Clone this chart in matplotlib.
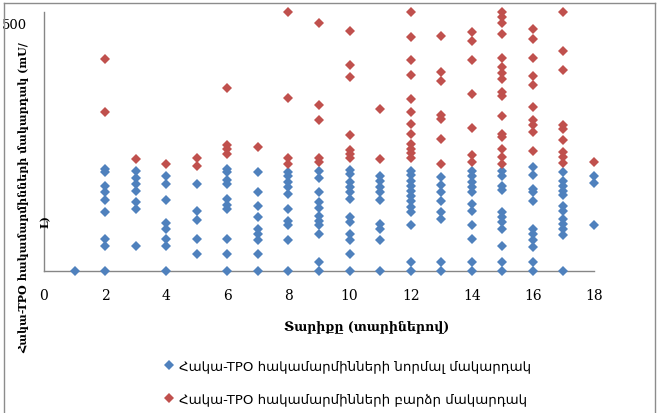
import matplotlib
matplotlib.use("Agg")
import matplotlib.pyplot as plt
from matplotlib.lines import Line2D
from matplotlib.transforms import ScaledTranslation

# Age (years) for each column of measurements
ages = [1, 2, 3, 4, 5, 6, 7, 8, 9, 10, 11, 12, 13, 14, 15, 16, 17, 18]

# Normal anti-TPO antibody levels (mU/L) per age
normal_levels = [
    [0],
    [0, 48, 62, 113, 138, 153, 165, 191, 197],
    [48, 120, 134, 155, 167, 179, 193],
    [0, 48, 62, 81, 93, 138, 167, 183],
    [32, 62, 99, 116, 167],
    [0, 32, 62, 120, 127, 139, 167, 175, 191, 197],
    [0, 32, 60, 71, 82, 105, 126, 153, 192],
    [0, 60, 88, 97, 120, 149, 162, 171, 184, 192],
    [0, 17, 71, 88, 97, 107, 121, 134, 153, 180, 193],
    [0, 32, 60, 71, 94, 104, 139, 152, 162, 171, 187, 195],
    [0, 60, 81, 90, 138, 153, 162, 174, 184],
    [0, 17, 89, 113, 123, 136, 145, 155, 165, 174, 185, 194],
    [0, 17, 100, 113, 136, 153, 166, 181],
    [0, 17, 62, 89, 115, 129, 152, 162, 172, 184, 194],
    [0, 17, 48, 82, 94, 104, 113, 157, 164, 184, 194],
    [0, 17, 46, 60, 71, 81, 136, 152, 158, 185, 200],
    [0, 70, 81, 91, 100, 116, 126, 147, 155, 165, 174, 191],
    [89, 170, 184],
]

# Elevated anti-TPO antibody levels (mU/L) per age
high_levels = [
    [],
    [306, 409],
    [216],
    [206],
    [203, 218],
    [225, 236, 244, 354],
    [239],
    [206, 218, 334, 500],
    [210, 218, 292, 321, 479],
    [218, 225, 234, 263, 375, 398, 463],
    [216, 313],
    [218, 228, 236, 245, 265, 284, 306, 332, 378, 407, 451, 500],
    [206, 255, 294, 302, 366, 385, 454],
    [210, 223, 276, 342, 408, 444, 461],
    [207, 220, 236, 258, 265, 300, 337, 345, 371, 382, 394, 411, 458, 479, 490, 500],
    [232, 268, 282, 292, 317, 359, 377, 411, 448, 467],
    [208, 220, 229, 252, 274, 281, 388, 425, 500],
    [210],
]

x_ticks = [0, 2, 4, 6, 8, 10, 12, 14, 16, 18]
y_ticks = [500]

series_names = [
    "Հակա-TPO հակամարմինների նորմալ մակարդակ",
    "Հակա-TPO հակամարմինների բարձր մակարդակ",
]
x_title = "Տարիքը (տարիներով)"
y_title_lines = ["Հակա-TPO հակամարմինների մակարդակ (mU/", "L)"]

BLUE = "#4F81BD"
RED = "#C0504D"
AXIS_GRAY = "#868686"

W, H = 658, 414
fig = plt.figure(figsize=(W / 100, H / 100), dpi=100)
ax = fig.add_axes([44 / W, 1 - 272 / H, 550 / W, 259 / H])


def flatten(groups):
    xs, ys = [], []
    for age, vals in zip(ages, groups):
        xs.extend([age] * len(vals))
        ys.extend(vals)
    return xs, ys


nx, ny = flatten(normal_levels)
hx, hy = flatten(high_levels)

h_normal, = ax.plot(nx, ny, linestyle="none", marker="D", ms=5.5,
                    color=BLUE, mec=BLUE, mew=0, clip_on=False, zorder=3)
h_high, = ax.plot(hx, hy, linestyle="none", marker="D", ms=5.5,
                  color=RED, mec=RED, mew=0, clip_on=False, zorder=4)

ax.set_xlim(0, 18)
ax.set_ylim(0, 500)

for side in ("top", "right"):
    ax.spines[side].set_visible(False)
for side in ("left", "bottom"):
    ax.spines[side].set_color(AXIS_GRAY)
    ax.spines[side].set_linewidth(1.0)

serif = ["DejaVu Serif", "DejaVu Sans"]
sans = ["DejaVu Sans"]

ax.set_xticks(x_ticks)
ax.set_xticklabels([str(t) for t in x_ticks], fontfamily=serif, fontsize=10)
ax.set_yticks(y_ticks)
ax.set_yticklabels([str(t) for t in y_ticks], fontfamily=serif, fontsize=9.5)
ax.tick_params(axis="both", length=0, colors="black")
ax.tick_params(axis="x", pad=12)
ax.tick_params(axis="y", pad=12)
for lbl in ax.get_yticklabels():
    lbl.set_transform(lbl.get_transform() + ScaledTranslation(0, -0.11, fig.dpi_scale_trans))

# Axis titles
fig.text(367 / W, 1 - 327 / H, x_title, ha="center", va="center",
         fontsize=9, fontweight="bold", fontfamily=serif)
fig.text(24 / W, 1 - 198 / H, y_title_lines[0], ha="center", va="center",
         rotation=90, fontsize=8, fontweight="bold", fontfamily=serif)
fig.text(45 / W, 1 - 222 / H, y_title_lines[1], ha="center", va="center",
         rotation=90, fontsize=8, fontweight="bold", fontfamily=serif)

# Legend below the plot
leg = fig.legend([h_normal, h_high], series_names, loc="upper left",
                 bbox_to_anchor=(164 / W, 1 - 361 / H), frameon=False,
                 handlelength=0.8, handletextpad=0.35, labelspacing=1.45,
                 prop={"family": sans, "size": 9.6}, borderpad=0, borderaxespad=0)

# Chart border
border_kw = dict(color="#8C8C8C", linewidth=1.0, transform=fig.transFigure)
fig.add_artist(Line2D([4 / W, 655 / W], [1 - 4 / H, 1 - 4 / H], **border_kw))
fig.add_artist(Line2D([4 / W, 4 / W], [1 - 4 / H, 0], **border_kw))
fig.add_artist(Line2D([655 / W, 655 / W], [1 - 4 / H, 0], **border_kw))

fig.savefig("out.png", dpi=100)
